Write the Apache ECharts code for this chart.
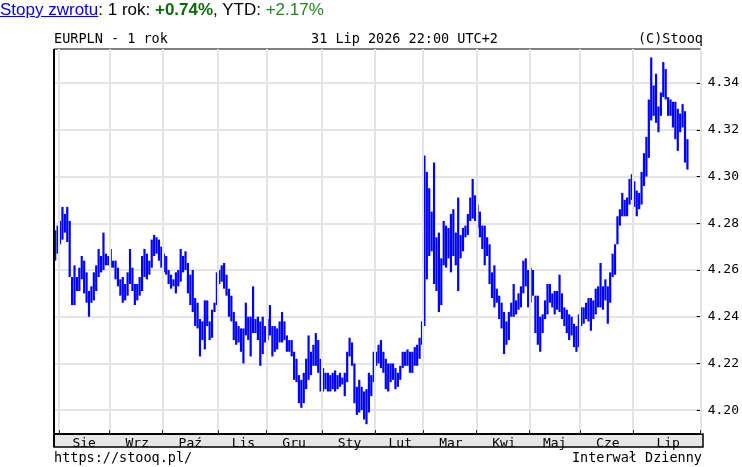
<!DOCTYPE html>
<html><head><meta charset="utf-8">
<script src="https://cdn.jsdelivr.net/npm/echarts@6/dist/echarts.min.js"></script>
<style>
html,body{margin:0;padding:0;background:#fff;}
#chart{position:absolute;left:0;top:0;width:742px;height:467px;}
#hdr{position:absolute;left:0;top:0;font:17px "Liberation Sans",Arial,sans-serif;line-height:20px;color:#000;white-space:nowrap;z-index:5;}
#hdr a{color:#0000ee;text-decoration:underline;}
.g1{color:#0b6b0b;font-weight:bold;}
.g2{color:#1f8a1f;}
</style></head><body>
<div id="chart"></div>
<div id="hdr"><a>Stopy zwrotu</a>: 1 rok: <span class="g1">+0.74%</span>, YTD: <span class="g2">+2.17%</span></div>
<script>
// Months shown on the chart and number of daily bars in each (first = tail of Jul 2025)
const months = ['Lip','Sie','Wrz','Paź','Lis','Gru','Sty','Lut','Mar','Kwi','Maj','Cze','Lip'];
const monthBars = [2,21,22,23,20,23,22,20,22,22,21,22,23];
const emptyBarsAtEnd = 5;
const yTicks = [4.20,4.22,4.24,4.26,4.28,4.30,4.32,4.34];

// Daily highs and lows of EURPLN
const highs = [
4.277,4.279,4.281,4.287,4.284,4.287,4.281,4.257,4.262,4.257,
4.261,4.266,4.264,4.259,4.251,4.253,4.259,4.262,4.269,4.266,
4.276,4.267,4.266,4.269,4.264,4.264,4.261,4.256,4.257,4.254,
4.259,4.269,4.261,4.254,4.254,4.257,4.266,4.269,4.267,4.264,
4.273,4.275,4.274,4.273,4.270,4.267,4.266,4.260,4.258,4.256,
4.259,4.260,4.269,4.266,4.268,4.263,4.258,4.260,4.248,4.246,
4.239,4.238,4.247,4.247,4.238,4.243,4.246,4.259,4.260,4.262,
4.263,4.258,4.252,4.249,4.242,4.238,4.236,4.235,4.235,4.246,
4.240,4.240,4.253,4.239,4.240,4.238,4.240,4.236,4.239,4.245,
4.236,4.236,4.235,4.238,4.242,4.238,4.232,4.230,4.230,4.225,
4.222,4.215,4.213,4.216,4.222,4.232,4.225,4.228,4.233,4.230,
4.222,4.218,4.216,4.216,4.215,4.216,4.217,4.215,4.216,4.214,
4.216,4.225,4.231,4.229,4.220,4.210,4.213,4.210,4.208,4.209,
4.216,4.215,4.225,4.225,4.228,4.230,4.225,4.222,4.220,4.220,
4.220,4.218,4.216,4.219,4.225,4.225,4.226,4.225,4.225,4.227,
4.228,4.231,4.238,4.309,4.302,4.295,4.285,4.306,4.274,4.276,
4.265,4.281,4.279,4.278,4.284,4.286,4.276,4.291,4.275,4.278,
4.279,4.284,4.291,4.299,4.292,4.288,4.285,4.279,4.279,4.274,
4.271,4.259,4.262,4.252,4.249,4.246,4.242,4.238,4.242,4.246,
4.254,4.247,4.250,4.253,4.264,4.265,4.260,4.261,4.260,4.249,
4.249,4.240,4.241,4.247,4.254,4.254,4.250,4.251,4.251,4.258,
4.250,4.244,4.243,4.241,4.240,4.237,4.236,4.241,4.244,4.244,
4.246,4.248,4.248,4.247,4.252,4.253,4.263,4.253,4.256,4.253,
4.259,4.267,4.271,4.283,4.286,4.293,4.290,4.291,4.299,4.301,
4.298,4.294,4.293,4.302,4.310,4.317,4.333,4.351,4.339,4.344,
4.330,4.336,4.349,4.346,4.334,4.333,4.332,4.332,4.329,4.327,
4.331,4.328,4.316];
const lows = [
4.264,4.267,4.271,4.273,4.276,4.272,4.257,4.245,4.245,4.251,
4.251,4.256,4.250,4.246,4.240,4.246,4.247,4.251,4.257,4.259,
4.260,4.262,4.262,4.261,4.261,4.256,4.253,4.249,4.246,4.247,
4.249,4.254,4.251,4.245,4.247,4.249,4.251,4.257,4.256,4.258,
4.261,4.266,4.267,4.264,4.261,4.259,4.258,4.254,4.252,4.253,
4.250,4.253,4.255,4.259,4.260,4.250,4.245,4.242,4.236,4.235,
4.223,4.230,4.226,4.236,4.230,4.231,4.242,4.245,4.254,4.255,
4.252,4.249,4.240,4.238,4.230,4.228,4.229,4.225,4.220,4.232,
4.230,4.223,4.233,4.233,4.230,4.219,4.224,4.229,4.230,4.232,
4.223,4.225,4.226,4.229,4.229,4.230,4.225,4.225,4.223,4.213,
4.212,4.203,4.201,4.203,4.209,4.213,4.215,4.219,4.219,4.216,
4.208,4.208,4.209,4.208,4.208,4.209,4.208,4.209,4.210,4.211,
4.206,4.212,4.223,4.219,4.203,4.198,4.199,4.200,4.196,4.194,
4.199,4.206,4.212,4.219,4.220,4.218,4.216,4.209,4.208,4.212,
4.213,4.209,4.210,4.213,4.218,4.219,4.219,4.216,4.216,4.219,
4.219,4.222,4.228,4.236,4.256,4.266,4.268,4.254,4.251,4.242,
4.245,4.262,4.261,4.265,4.259,4.266,4.262,4.251,4.265,4.268,
4.274,4.275,4.281,4.282,4.281,4.278,4.274,4.269,4.262,4.266,
4.254,4.248,4.244,4.246,4.239,4.235,4.224,4.228,4.230,4.240,
4.240,4.241,4.243,4.244,4.250,4.253,4.244,4.246,4.249,4.233,
4.228,4.225,4.233,4.239,4.241,4.246,4.244,4.241,4.243,4.242,
4.239,4.236,4.233,4.230,4.232,4.227,4.225,4.227,4.236,4.237,
4.239,4.238,4.234,4.239,4.241,4.244,4.244,4.243,4.247,4.237,
4.246,4.257,4.258,4.271,4.279,4.283,4.283,4.283,4.288,4.290,
4.287,4.283,4.286,4.288,4.296,4.300,4.308,4.324,4.326,4.323,
4.319,4.326,4.334,4.333,4.326,4.326,4.321,4.316,4.311,4.319,
4.321,4.306,4.303];

// category axis built from month bar counts
const cats = [];
const monthStart = new Set();
const monthMid = {};
let k = 0;
monthBars.forEach((n, m) => {
  if (m > 0) monthStart.add(k);
  const span = (m === monthBars.length - 1) ? n + emptyBarsAtEnd : n;
  if (m > 0) monthMid[k + Math.floor(span / 2)] = months[m];
  k += n;
});
const total = k + emptyBarsAtEnd;
for (let i = 0; i < total; i++) cats.push(String(i));

const bars = highs.map((h, i) => [i, h, lows[i]]);

const MONO = '"DejaVu Sans Mono", monospace';
const chart = echarts.init(document.getElementById('chart'), null, {renderer: 'canvas'});
chart.setOption({
  animation: false,
  backgroundColor: '#fff',
  grid: {left: 54, right: 39, top: 49, bottom: 33, show: true, borderColor: '#000', borderWidth: 1, backgroundColor: '#fff'},
  xAxis: [{
    type: 'category', data: cats, boundaryGap: true, position: 'bottom', z: 10,
    axisLine: {show: true, lineStyle: {color: '#000', width: 2}},
    axisTick: {show: true, inside: true, length: 4, interval: (i) => monthStart.has(i), lineStyle: {color: '#333'}},
    splitLine: {show: true, interval: (i) => monthStart.has(i), lineStyle: {color: '#e4e4e4', width: 2}},
    axisLabel: {show: true, interval: (i) => monthMid[i] !== undefined, formatter: (v, i) => monthMid[i] || '',
      fontFamily: MONO, fontSize: 13, color: '#000', margin: 3}
  }, {
    type: 'category', data: cats, boundaryGap: true, position: 'top',
    axisLine: {show: false},
    axisTick: {show: true, inside: true, length: 4, interval: (i) => monthStart.has(i), lineStyle: {color: '#333'}},
    axisLabel: {show: false}, splitLine: {show: false}
  }],
  yAxis: {
    type: 'value', position: 'right', min: 4.1898, max: 4.3546, scale: true,
    axisLine: {show: false},
    axisTick: {show: true, inside: true, length: 4, customValues: yTicks, lineStyle: {color: '#000'}},
    splitLine: {show: true, lineStyle: {color: '#e4e4e4', width: 2}},
    axisLabel: {show: true, customValues: yTicks, formatter: (v) => v.toFixed(2), fontFamily: MONO, fontSize: 13, color: '#000', margin: 7}
  },
  series: [{
    type: 'custom', clip: true,
    encode: {x: 0, y: [1, 2]},
    data: bars,
    renderItem: function (params, api) {
      const x = api.value(0);
      const hi = api.coord([x, api.value(1)]);
      const lo = api.coord([x, api.value(2)]);
      const bw = 2.2;
      return {type: 'rect', shape: {x: hi[0] - bw / 2, y: hi[1], width: bw, height: Math.max(1, lo[1] - hi[1])},
        style: {fill: '#0000ff'}};
    }
  }],
  graphic: [
    {type: 'rect', z: 1, shape: {x: 54, y: 434, width: 649, height: 13}, style: {fill: '#e6e6e6', stroke: '#000', lineWidth: 1.5}},
    {type: 'line', z: 20, shape: {x1: 54, y1: 49, x2: 54, y2: 447}, style: {stroke: '#000', lineWidth: 2}},
    {type: 'text', x: 54, y: 39.5, style: {text: 'EURPLN - 1 rok', font: '13.5px ' + MONO, fill: '#000', align: 'left', verticalAlign: 'middle'}},
    {type: 'text', x: 311, y: 39.5, style: {text: '31 Lip 2026 22:00 UTC+2', font: '13.5px ' + MONO, fill: '#000', align: 'left', verticalAlign: 'middle'}},
    {type: 'text', x: 703, y: 39.5, style: {text: '(C)Stooq', font: '13.5px ' + MONO, fill: '#000', align: 'right', verticalAlign: 'middle'}},
    {type: 'text', x: 54, y: 458, style: {text: 'https://stooq.pl/', font: '13.5px ' + MONO, fill: '#000', align: 'left', verticalAlign: 'middle'}},
    {type: 'text', x: 702, y: 458, style: {text: 'Interwał Dzienny', font: '13.5px ' + MONO, fill: '#000', align: 'right', verticalAlign: 'middle'}}
  ]
});
</script>
</body></html>
